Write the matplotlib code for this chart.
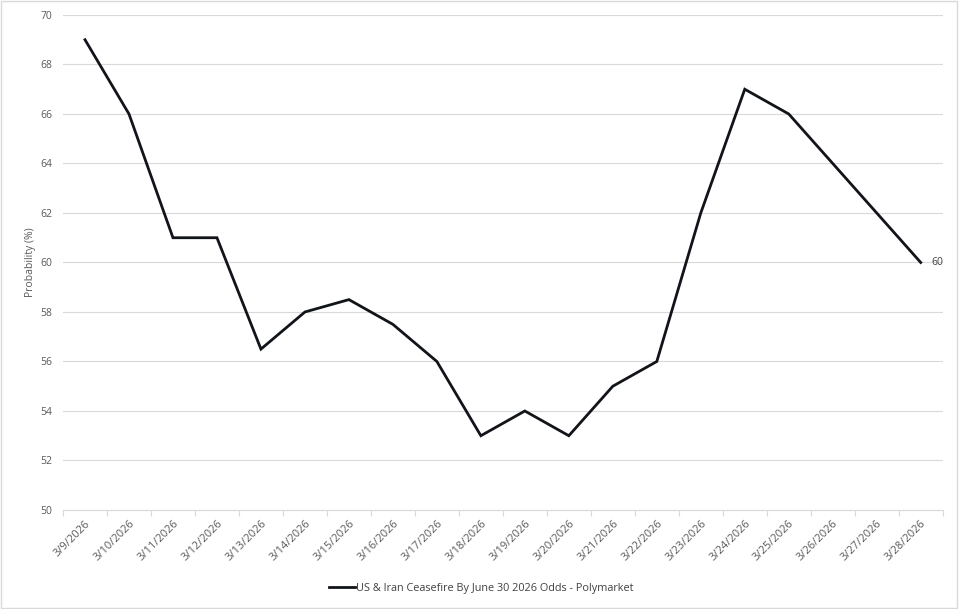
import matplotlib.pyplot as plt
import matplotlib.patches as patches

dates = ['3/9/2026', '3/10/2026', '3/11/2026', '3/12/2026', '3/13/2026', '3/14/2026',
         '3/15/2026', '3/16/2026', '3/17/2026', '3/18/2026', '3/19/2026', '3/20/2026',
         '3/21/2026', '3/22/2026', '3/23/2026', '3/24/2026', '3/25/2026', '3/26/2026',
         '3/27/2026', '3/28/2026']
odds = [69, 66, 61, 61, 56.5, 58, 58.5, 57.5, 56, 53, 54, 53, 55, 56, 62, 67, 66, 64, 62, 60]
series_name = 'US & Iran Ceasefire By June 30 2026 Odds - Polymarket'
yticks = list(range(50, 71, 2))

plt.rcParams['font.family'] = ['Open Sans', 'DejaVu Sans']
gray = '#595959'

fig = plt.figure(figsize=(9.59, 6.09), dpi=100)
ax = fig.add_axes([0.0657, 0.1626, 0.9173, 0.8128])

x = list(range(len(dates)))
line, = ax.plot(x, odds, color='#111419', linewidth=2.0, solid_joinstyle='miter',
                label=series_name)
ax.annotate(str(odds[-1]), (x[-1], odds[-1]), xytext=(8, 0), textcoords='offset points',
            va='center', ha='left', fontsize=7.5, color='#404040')

ax.set_xlim(-0.5, len(dates) - 0.5)
ax.set_ylim(50, 70)
ax.set_yticks(yticks)
ax.set_yticklabels([str(v) for v in yticks], fontsize=7.5, color=gray)
ax.yaxis.grid(True, color='#d9d9d9', linewidth=0.8)
ax.set_axisbelow(True)
ax.tick_params(axis='y', length=0, pad=8)

# category tick marks at boundaries, labels at centers
ax.set_xticks([i - 0.5 for i in range(len(dates) + 1)], minor=False)
ax.set_xticklabels([])
ax.tick_params(axis='x', which='major', length=4, color='#d9d9d9', width=0.8)
ax.set_xticks(x, minor=True)
ax.set_xticklabels(dates, minor=True, rotation=45, ha='right', rotation_mode='anchor',
                   fontsize=8, color=gray)
ax.tick_params(axis='x', which='minor', length=0, pad=6)

for s in ['top', 'right', 'left']:
    ax.spines[s].set_visible(False)
ax.spines['bottom'].set_color('#d9d9d9')
ax.spines['bottom'].set_linewidth(0.8)

ax.set_ylabel('Probability (%)', fontsize=7.5, color=gray, labelpad=3)

fig.legend(handles=[line], loc='center', bbox_to_anchor=(0.502, 0.034), frameon=False,
           fontsize=7.8, labelcolor='#404040', handlelength=2.4, handletextpad=0.1)

fig.patches.append(patches.Rectangle((0.001, 0.002), 0.997, 0.996, transform=fig.transFigure,
                                     fill=False, edgecolor='#d9d9d9', linewidth=1.0))

fig.savefig('out.png', dpi=100)
